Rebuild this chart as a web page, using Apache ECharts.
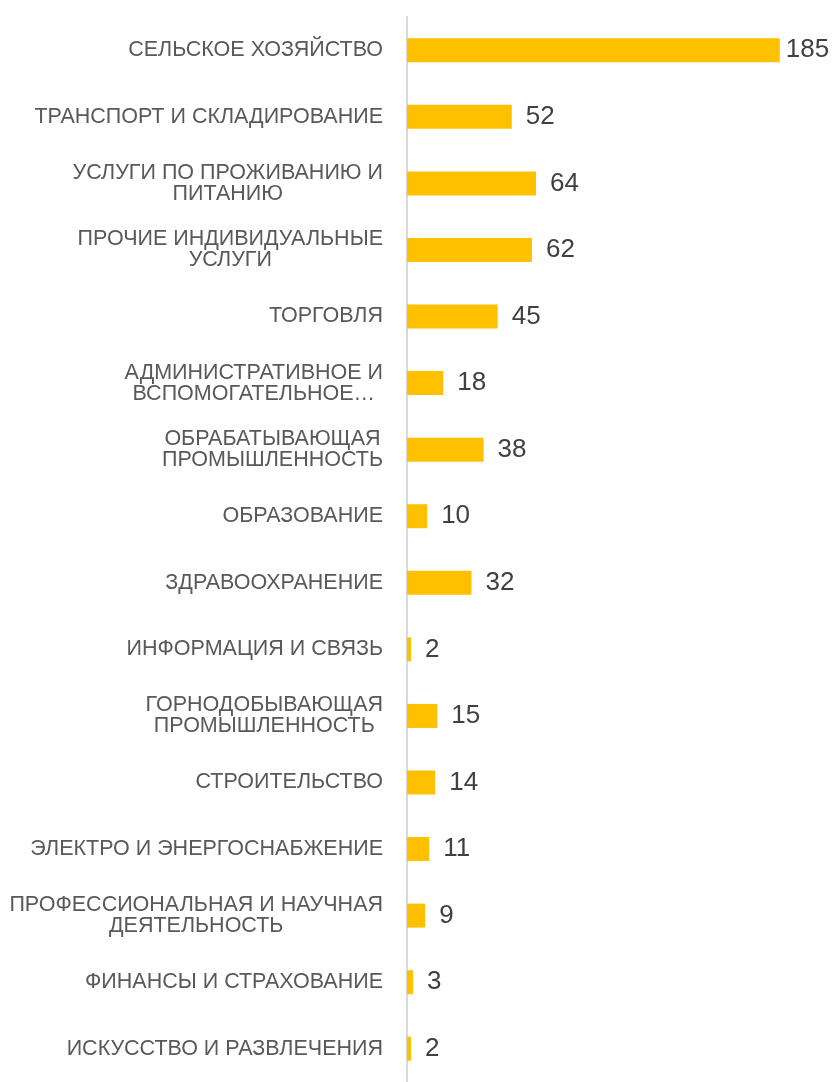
<!DOCTYPE html>
<html>
<head>
<meta charset="utf-8">
<script src="https://cdn.jsdelivr.net/npm/echarts@6/dist/echarts.min.js"></script>
<style>
  html, body { margin: 0; padding: 0; background: #fff; }
  #chart { width: 835px; height: 1082px; }
</style>
</head>
<body>
<div id="chart"></div>
<script>
const categories = [
  'СЕЛЬСКОЕ ХОЗЯЙСТВО',
  'ТРАНСПОРТ И СКЛАДИРОВАНИЕ',
  'УСЛУГИ ПО ПРОЖИВАНИЮ И\nПИТАНИЮ',
  'ПРОЧИЕ ИНДИВИДУАЛЬНЫЕ\nУСЛУГИ',
  'ТОРГОВЛЯ',
  'АДМИНИСТРАТИВНОЕ И\nВСПОМОГАТЕЛЬНОЕ…',
  'ОБРАБАТЫВАЮЩАЯ\nПРОМЫШЛЕННОСТЬ',
  'ОБРАЗОВАНИЕ',
  'ЗДРАВООХРАНЕНИЕ',
  'ИНФОРМАЦИЯ И СВЯЗЬ',
  'ГОРНОДОБЫВАЮЩАЯ\nПРОМЫШЛЕННОСТЬ',
  'СТРОИТЕЛЬСТВО',
  'ЭЛЕКТРО И ЭНЕРГОСНАБЖЕНИЕ',
  'ПРОФЕССИОНАЛЬНАЯ И НАУЧНАЯ\nДЕЯТЕЛЬНОСТЬ',
  'ФИНАНСЫ И СТРАХОВАНИЕ',
  'ИСКУССТВО И РАЗВЛЕЧЕНИЯ'
];
const values = [185, 52, 64, 62, 45, 18, 38, 10, 32, 2, 15, 14, 11, 9, 3, 2];

const myChart = echarts.init(document.getElementById('chart'));
myChart.setOption({
  backgroundColor: '#fff',
  textStyle: { fontFamily: 'Liberation Sans, Arial, sans-serif' },
  grid: { left: 407, right: 25, top: 17, height: 1080 },
  xAxis: {
    type: 'value',
    min: 0,
    max: 200,
    show: false
  },
  yAxis: {
    type: 'category',
    inverse: true,
    data: categories,
    axisLine: { show: true, lineStyle: { color: '#d9d9d9', width: 2 } },
    axisTick: { show: false },
    axisLabel: {
      margin: 24,
      color: '#595959',
      fontSize: 21.5,
      formatter: (v) => v.split('\n').map((s) => '{c|' + s + '}').join('\n'),
      rich: {
        c: { align: 'center', color: '#595959', fontSize: 21.5, lineHeight: 21,
             fontFamily: 'Liberation Sans, Arial, sans-serif' }
      }
    }
  },
  series: [{
    type: 'bar',
    barWidth: 24,
    data: values.map((v, i) => i === 0 ? { value: v, label: { distance: 6 } } : v),
    itemStyle: { color: '#ffc000' },
    label: {
      show: true,
      position: 'right',
      distance: 14,
      color: '#404040',
      fontSize: 26,
      fontFamily: 'Liberation Sans, Arial, sans-serif'
    },
    animation: false
  }]
});
</script>
</body>
</html>
